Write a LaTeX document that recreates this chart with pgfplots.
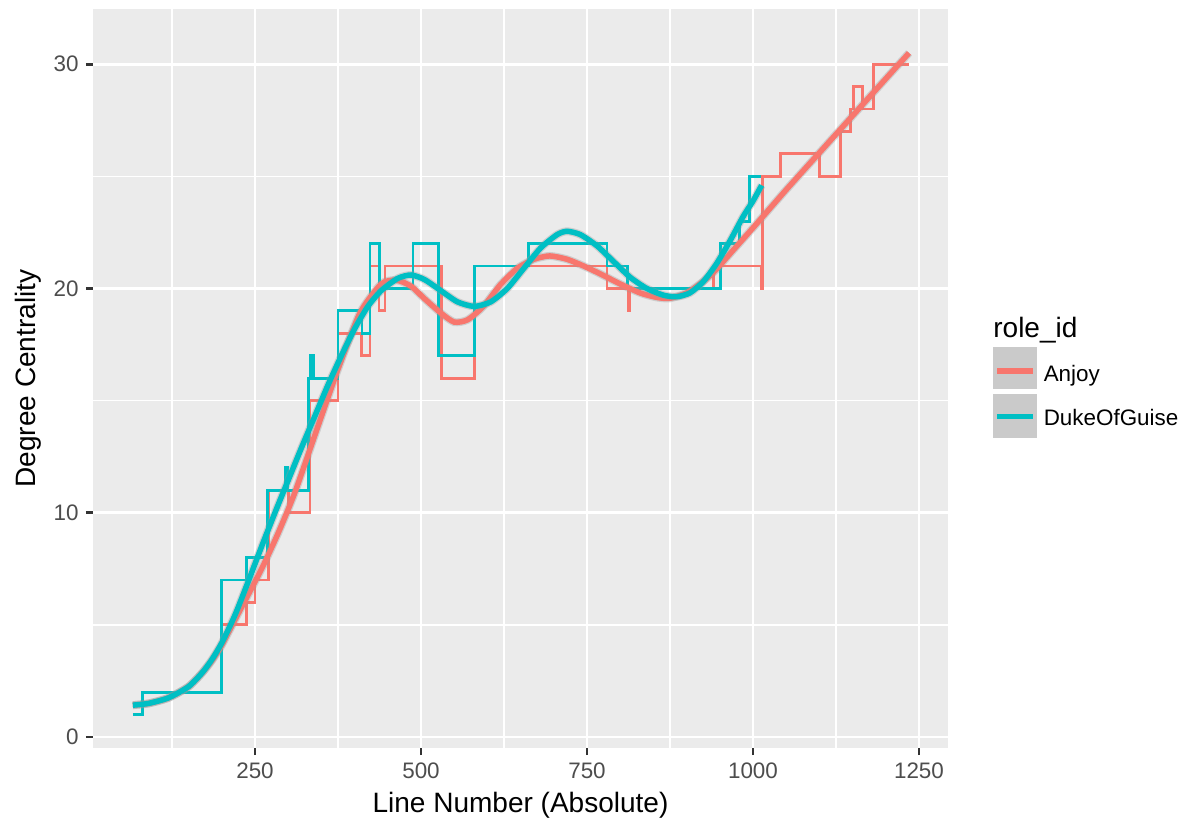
\documentclass[border=0pt]{standalone}
\usepackage{pgfplots}
\pgfplotsset{compat=1.18}
\usepackage{fontspec}
\setmainfont{Liberation Sans}
\definecolor{cred}{HTML}{F8766D}
\definecolor{cteal}{HTML}{00BFC4}
\definecolor{panel}{HTML}{EBEBEB}
\definecolor{tickc}{HTML}{4D4D4D}
\definecolor{tickm}{HTML}{333333}
\definecolor{keyg}{HTML}{CACACA}
\definecolor{ribbon}{HTML}{999999}

\pgfplotstableread{
x y
66 1
81 2
200 7
237 8
269 11
296 12
299 11
330 16
334 17
338 16
375 19
411 18
423 22
437 20
488 22
526 17
580 21
662 22
780 21
811 20
951 22
980 23
995 25
1012 25
}\tealstep

\pgfplotstableread{
x y
66 1
81 2
200 5
237 6
250 7
270 11
300 10
333 15
375 18
410.6 17
423 21
436.7 19
445.8 21
531 16
580 21
780 20
812 19
813.5 20
940 21
1012 20
1014 25
1041 26
1100 25
1132 27
1147 28
1151 29
1164.6 28
1182 30
1235 30
}\redstep

\pgfplotstableread{
x y
66 1.42
90 1.5
120 1.75
150 2.25
170 2.85
185 3.45
200 4.2
220 5.45
240 6.95
260 8.5
280 10.0
300 11.45
320 12.9
340 14.3
360 15.7
380 17.0
400 18.2
420 19.2
440 19.9
465 20.45
485 20.6
505 20.4
530 19.9
555 19.4
580 19.2
605 19.4
630 20.0
655 20.9
680 21.8
705 22.4
720 22.55
740 22.4
765 21.9
790 21.2
815 20.5
840 20.0
865 19.7
885 19.63
905 19.8
925 20.3
945 21.1
965 22.1
985 23.2
1000 23.9
1013 24.6
}\tealsmooth

\pgfplotstableread{
x y
66 1.42
90 1.5
120 1.75
150 2.25
170 2.85
185 3.4
200 4.1
215 4.95
230 5.8
260 7.5
285 9.1
310 10.9
343 13.7
375 16.4
408 18.9
440 20.2
463 20.37
485 20.1
505 19.55
530 18.9
550 18.5
570 18.6
594 19.2
619 20.15
645 20.9
670 21.3
694 21.45
720 21.3
745 21.0
770 20.65
800 20.2
830 19.8
855 19.6
875 19.56
900 19.8
920 20.2
940 20.7
970 21.7
1000 22.7
1050 24.4
1100 26.05
1150 27.7
1200 29.35
1235 30.5
}\redsmooth

\begin{document}
\begin{tikzpicture}
\useasboundingbox (0,0) rectangle (575.52bp,395.04bp);
\begin{axis}[
  at={(44.64bp,36bp)}, anchor=south west,
  scale only axis, width=410.4bp, height=354.72bp,
  xmin=6, xmax=1293.7, ymin=-0.49, ymax=32.46,
  axis background/.style={fill=panel},
  axis line style={draw=none},
  xtick={250,500,750,1000,1250}, ytick={0,10,20,30},
  minor xtick={125,375,625,875,1125}, minor ytick={5,15,25},
  grid=both,
  major grid style={white, line width=1.32bp},
  minor grid style={white, line width=0.66bp},
  tick align=outside, tick pos=left,
  major tick length=3.4bp, minor tick length=0pt,
  major tick style={tickm, line width=1.32bp},
  ticklabel style={font=\fontsize{10.8}{12}\selectfont, text=tickc},
  /pgf/number format/assume math mode=true,
  /pgf/number format/1000 sep={},
  scaled ticks=false,
]
\addplot[const plot, cred, line width=1.32bp] table[x=x,y=y] {\redstep};
\addplot[const plot, cteal, line width=1.32bp] table[x=x,y=y] {\tealstep};
\addplot[ribbon, opacity=0.35, line width=3.8bp, smooth, tension=0.4] table[x=x,y=y] {\redsmooth};
\addplot[cred, line width=2.64bp, smooth, tension=0.4] table[x=x,y=y] {\redsmooth};
\addplot[ribbon, opacity=0.35, line width=3.8bp, smooth, tension=0.4] table[x=x,y=y] {\tealsmooth};
\addplot[cteal, line width=2.64bp, smooth, tension=0.4] table[x=x,y=y] {\tealsmooth};
\end{axis}
% axis titles
\node[anchor=base, font=\fontsize{13.5}{15}\selectfont] at (249.84bp,4.94bp) {Line Number (Absolute)};
\node[anchor=base, rotate=90, font=\fontsize{13.5}{15}\selectfont] at (16.8bp,213.36bp) {Degree Centrality};
% legend
\node[anchor=base west, inner sep=0pt, font=\fontsize{13.5}{15}\selectfont] at (476.6bp,233.1bp) {role\_id};
\fill[keyg] (476.78bp,208.2bp) rectangle (497.9bp,228.5bp);
\fill[keyg] (476.78bp,184.66bp) rectangle (497.9bp,205.92bp);
\draw[cred, line width=2.64bp] (478.56bp,216.96bp) -- (495.84bp,216.96bp);
\draw[cteal, line width=2.64bp] (478.56bp,195.02bp) -- (495.84bp,195.02bp);
\node[anchor=base west, inner sep=0pt, font=\fontsize{10.8}{12}\selectfont] at (500.8bp,211.8bp) {Anjoy};
\node[anchor=base west, inner sep=0pt, font=\fontsize{10.8}{12}\selectfont] at (500.8bp,190.56bp) {DukeOfGuise};
\end{tikzpicture}
\end{document}
